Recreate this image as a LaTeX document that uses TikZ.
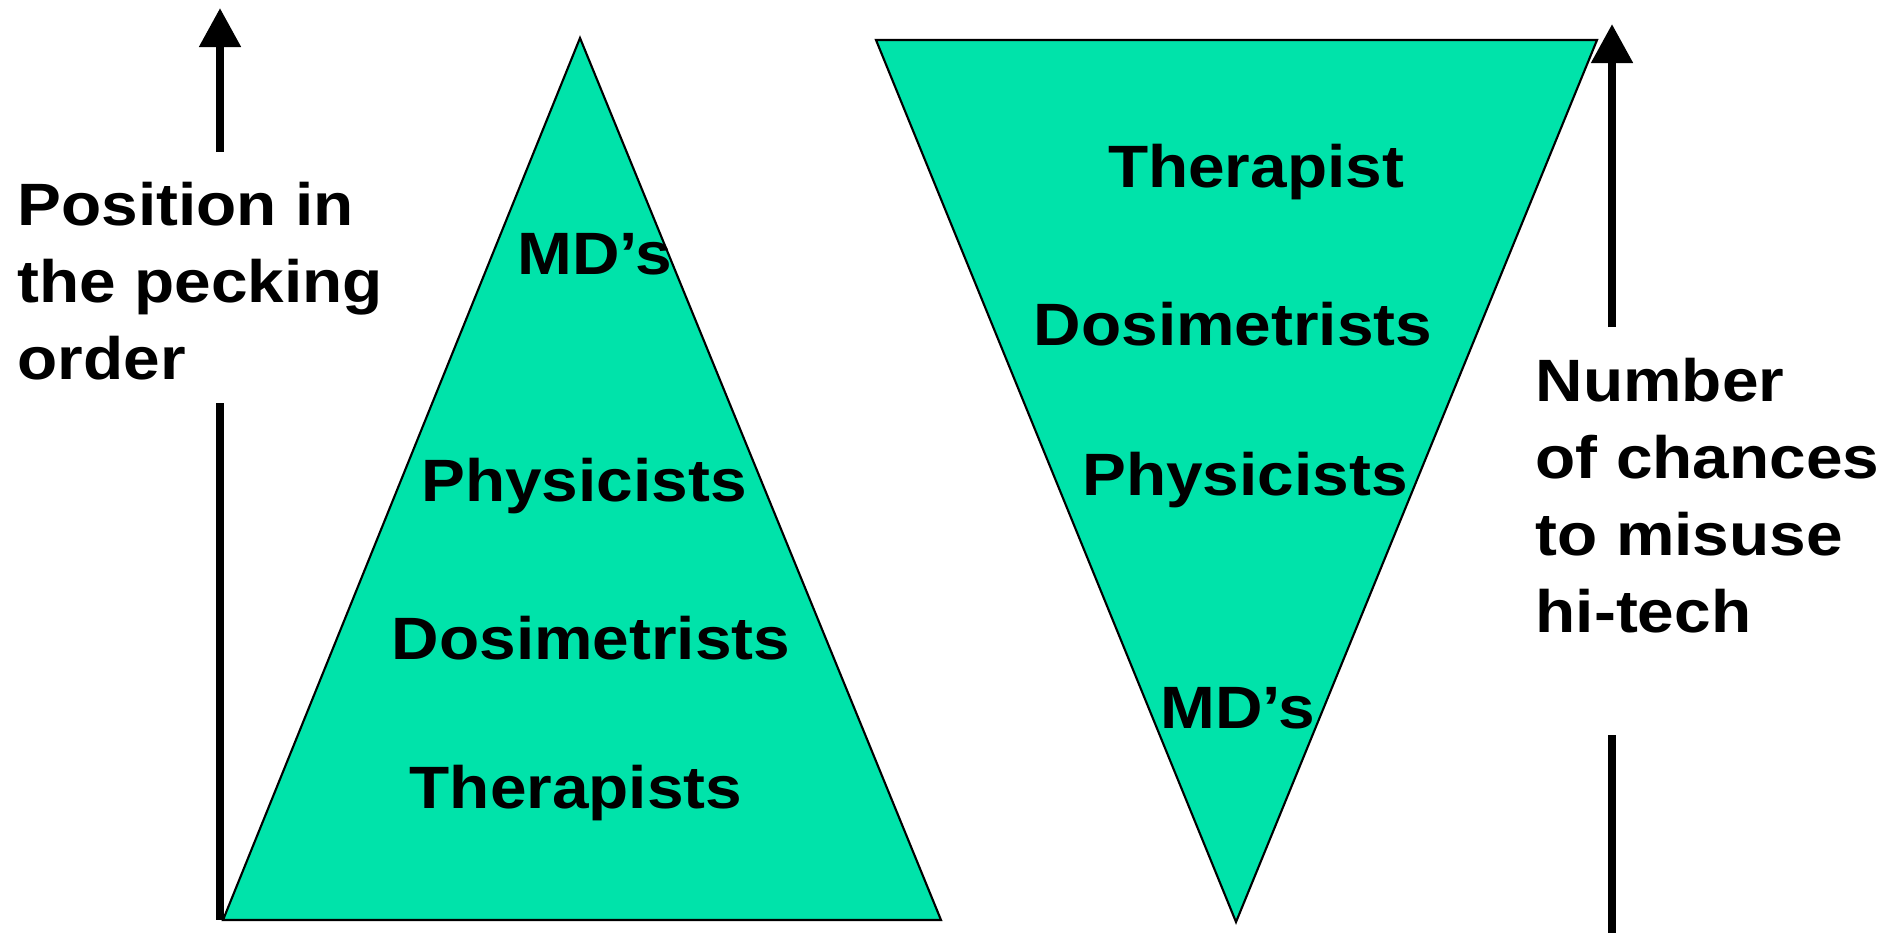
\documentclass[tikz,border=0pt]{standalone}
\usepackage{fontspec}
\setmainfont{Liberation Sans}[FakeStretch=1.1]
\usetikzlibrary{arrows.meta}
\usetikzlibrary{positioning}
\definecolor{pyramidgreen}{RGB}{0,227,170}

\begin{document}
\begin{tikzpicture}[x=0.01cm, y=-0.01cm,
		every node/.style={font=\fontsize{17}{21.9}\selectfont\bfseries, inner sep=0pt},
		tri/.style={fill=pyramidgreen, draw=black, line width=0.6pt},
		axis/.style={line width=2.3pt},
		axisarrow/.style={axis, -{Triangle[length=0.39cm, width=0.4cm]}}]
		\useasboundingbox (0,0) rectangle (1892,933);
		
		% pecking order
		\path[tri] (223,920) -- (580,38) -- (941,920) -- cycle;
		\node (mdl) at (595,254) {MD’s};
		\node (phl) at (584,486) {Physicists};
		\node (dol) at (591,638) {Dosimetrists};
		\node (thl) at (576,793) {Therapists};
		
		% chances
		\path[tri] (876,40) -- (1597,40) -- (1236,922) -- cycle;
		\node (thr) at (1256,172) {Therapist};
		\node (dor) at (1233,324) {Dosimetrists};
		\node (phr) at (1245,480) {Physicists};
		\node (mdr) at (1238,708) {MD’s};
		
		\coordinate (la1) at (220,152);
		\coordinate (la2) at (220,8);
		\coordinate (lb1) at (220,403);
		\coordinate (lb2) at (220,920);
		\draw[axisarrow] (la1) -- (la2);
		\draw[axis] (lb1) -- (lb2);
		\node[anchor=north west, align=left] (pos) at (17,181) {Position in\\the pecking\\order};
		
		\coordinate (ra1) at (1612,327);
		\coordinate (ra2) at (1612,24);
		\coordinate (rb1) at (1612,735);
		\coordinate (rb2) at (1612,933);
		\draw[axisarrow] (ra1) -- (ra2);
		\draw[axis] (rb1) -- (rb2);
		\node[anchor=north west, align=left] (num) at (1535,357) {Number\\of chances\\to misuse\\hi-tech};
	\end{tikzpicture}
\end{document}
